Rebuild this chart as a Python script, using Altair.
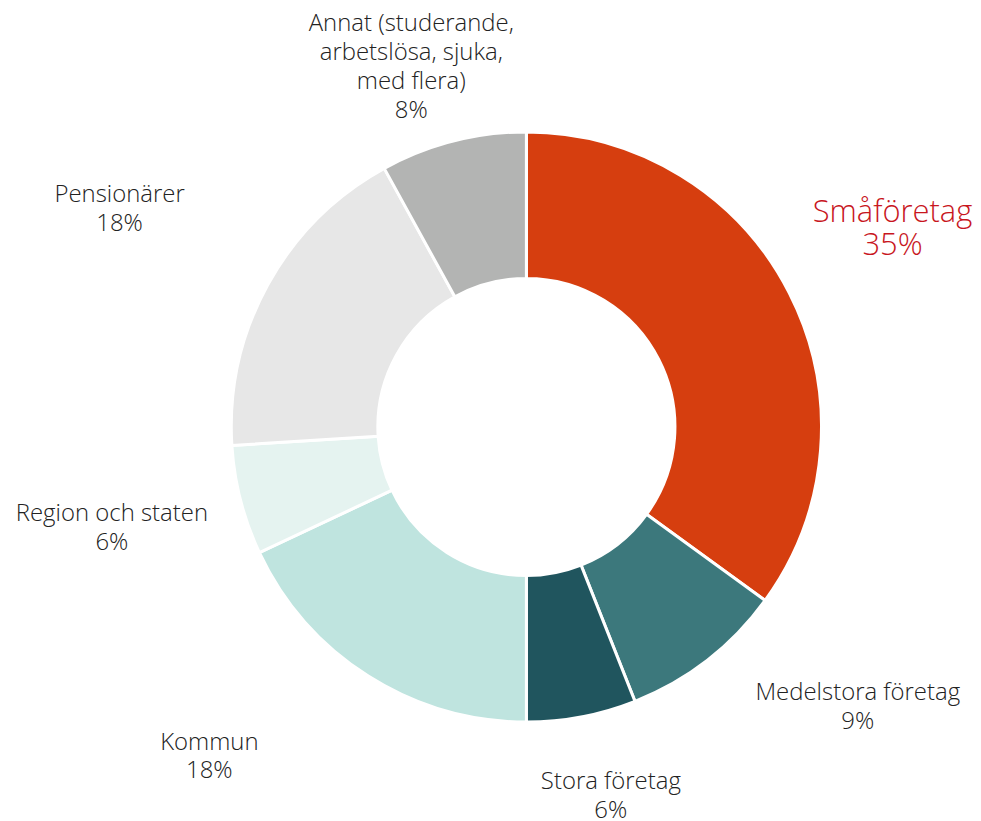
import altair as alt
import pandas as pd

categories = ["Småföretag", "Medelstora företag", "Stora företag", "Kommun",
              "Region och staten", "Pensionärer", "Annat (studerande, arbetslösa, sjuka, med flera)"]
label_lines = [["Småföretag", "35%"], ["Medelstora företag", "9%"], ["Stora företag", "6%"],
               ["Kommun", "18%"], ["Region och staten", "6%"], ["Pensionärer", "18%"],
               ["Annat (studerande,", "arbetslösa, sjuka,", "med flera)", "8%"]]
values = [35, 9, 6, 18, 6, 18, 8]
colors = ["#D63E0F", "#3C787C", "#20555E", "#BFE4DF", "#E5F3F0", "#E7E7E7", "#B3B4B3"]

df = pd.DataFrame({"cat": categories, "value": values, "order": list(range(len(values))),
                   "lab": label_lines})

CX, CY = 520, 419
R_LAB = 420
nudges = {
    "Småföretag": (-7, -24),
    "Medelstora företag": (75, -65),
    "Stora företag": (6, -56),
    "Kommun": (-93, -38),
    "Region och staten": (-9, -17),
    "Pensionärer": (-40, -30),
    "Annat (studerande, arbetslösa, sjuka, med flera)": (-11, 3),
}

base = alt.Chart(df).transform_window(
    end="sum(value)", sort=[alt.SortField("order")], frame=[None, 0]
).transform_calculate(
    start="datum.end - datum.value", mid="datum.end - datum.value/2"
)

theta_scale = alt.Scale(domain=[0, 100], range=[0, 6.283185307])

arcs = base.mark_arc(x=CX, y=CY, outerRadius=296, innerRadius=149,
                     stroke="white", strokeWidth=3).encode(
    theta=alt.Theta("start:Q", scale=theta_scale),
    theta2="end:Q",
    color=alt.Color("cat:N", scale=alt.Scale(domain=categories, range=colors), legend=None),
)

layers = [arcs]
for i, c in enumerate(categories):
    dx, dy = nudges[c]
    big = i == 0
    t = base.transform_filter(alt.datum.cat == c).mark_text(
        x=CX, y=CY, radius=R_LAB, dx=dx, dy=dy,
        font="Open Sans", fontWeight=300,
        fontSize=31 if big else 24, lineHeight=33 if big else 29,
        color="#C8161E" if big else "#222222", align="center", baseline="middle",
    ).encode(theta=alt.Theta("mid:Q", scale=theta_scale), text="lab")
    layers.append(t)

chart = alt.layer(*layers).properties(width=965, height=805, padding=0).configure_view(stroke=None)

chart.save("out.html", embed_options={"renderer": "svg", "actions": False})
